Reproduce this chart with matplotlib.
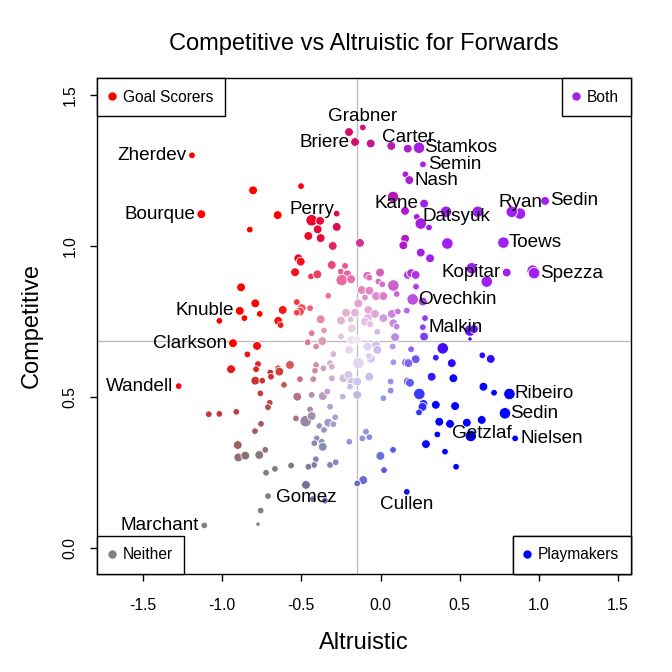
import numpy as np
import matplotlib.pyplot as plt

plt.rcParams['font.family'] = ['Liberation Sans', 'DejaVu Sans']

# altruistic (x), competitive (y), size class (1 tiny .. 4 large)
altruistic = [
    -1.191, -0.805, -1.132, -0.650, -0.826, -0.112, -0.199, -0.161, -0.062, 0.068,
    0.172, 0.243, 0.268, 0.157, 0.182, -0.502, -0.435, -0.382, -0.277, -0.277,
    -0.397, -0.456, -0.378, -0.302, -0.130, 0.079, 0.155, 0.275, 0.414, 0.229,
    0.254, 0.306, 0.155, 0.144, 0.422, 0.614, 0.881, 0.829, 1.039, 0.776,
    0.576, 0.671, 0.797, 0.961, 0.970, 0.565, 0.590, 0.565, 0.643, 0.696,
    0.450, 0.460, 0.650, 0.717, 0.814, 0.471, 0.786, 0.639, 0.545, 0.439,
    0.570, 0.850, 0.477, 0.271, 0.265, 0.349, 0.243, 0.371, 0.359, 0.287,
    0.407, 0.079, -0.001, 0.022, -0.109, -0.147, 0.166, -0.092, -0.115, -0.071,
    -0.197, -0.471, -0.428, -0.351, -0.319, -0.445, -0.534, -0.473, -0.435, -0.287,
    -0.330, -0.298, -0.387, -0.357, -0.403, -0.418, -0.372, -0.365, -0.409, -0.420,
    -0.456, -0.319, -0.283, -0.565, -0.667, -1.085, -1.018, -0.911, -0.700, -0.711,
    -0.755, -0.793, -0.902, -0.898, -0.854, -0.766, -0.728, -0.723, -0.711, -0.757,
    -0.774, -1.113, -0.881, -0.791, -0.763, -0.889, -0.860, -1.018, -0.932, -0.780,
    -0.841, -0.774, -0.786, -0.944, -0.696, -0.791, -0.747, -0.692, -0.759, -1.275,
    0.254, 0.313, -0.519, -0.504, -0.540, -0.439, -0.399, -0.308, -0.224, -0.251,
    -0.210, -0.245, -0.186, -0.083, -0.071, -0.003, -0.014, 0.011, 0.081, 0.172,
    0.193, 0.222, 0.224, 0.102, -0.119, -0.071, -0.098, -0.028, 0.018, -0.330,
    0.203, 0.267, -0.140, -0.529, -0.618, -0.498, -0.509, -0.445, -0.529, -0.646,
    -0.631, -0.378, -0.218, -0.161, -0.188, -0.250, -0.077, -0.035, -0.081, -0.098,
    -0.066, 0.018, 0.071, 0.109, 0.166, 0.081, 0.102, 0.281, 0.267, 0.275,
    -0.020, -0.182, -0.357, -0.435, -0.250, -0.460, -0.368, -0.182, -0.147, -0.407,
    -0.199, -0.083, -0.028, -0.020, 0.077, 0.092, 0.193, 0.393, -0.298, -0.060,
    -0.073, 0.222, 0.349, -0.572, -0.407, -0.319, -0.308, -0.140, 0.081, 0.161,
    0.176, -0.646, -0.639, -0.414, -0.361, -0.509, -0.425, -0.308, -0.235, -0.203,
    -0.182, -0.147, -0.193, -0.071, 0.064, 0.172, 0.186, 0.323, -0.610, -0.526,
    -0.435, -0.365, -0.336, -0.239, -0.147, 0.018, 0.064, 0.245,
]
competitive = [
    1.300, 1.184, 1.105, 1.102, 1.054, 1.392, 1.377, 1.344, 1.339, 1.331,
    1.322, 1.325, 1.270, 1.237, 1.218, 1.198, 1.085, 1.083, 1.107, 1.063,
    1.055, 1.033, 1.026, 1.000, 1.010, 1.162, 1.116, 1.140, 1.113, 1.096,
    1.074, 1.061, 1.024, 1.002, 1.008, 1.113, 1.107, 1.113, 1.149, 1.011,
    0.926, 0.882, 0.912, 0.918, 0.910, 0.720, 0.725, 0.692, 0.638, 0.626,
    0.612, 0.562, 0.534, 0.514, 0.510, 0.470, 0.446, 0.424, 0.415, 0.411,
    0.371, 0.363, 0.269, 0.477, 0.467, 0.474, 0.449, 0.418, 0.376, 0.344,
    0.319, 0.325, 0.305, 0.258, 0.225, 0.214, 0.186, 0.385, 0.363, 0.367,
    0.352, 0.209, 0.162, 0.157, 0.468, 0.459, 0.429, 0.420, 0.437, 0.433,
    0.415, 0.410, 0.404, 0.391, 0.363, 0.347, 0.352, 0.335, 0.294, 0.275,
    0.269, 0.275, 0.284, 0.273, 0.262, 0.443, 0.444, 0.451, 0.481, 0.466,
    0.411, 0.387, 0.341, 0.300, 0.306, 0.308, 0.325, 0.249, 0.172, 0.124,
    0.079, 0.075, 0.863, 0.810, 0.775, 0.785, 0.761, 0.752, 0.678, 0.669,
    0.641, 0.609, 0.592, 0.592, 0.581, 0.554, 0.554, 0.567, 0.512, 0.536,
    0.978, 0.959, 0.959, 0.948, 0.913, 0.899, 0.906, 0.937, 0.934, 0.915,
    0.906, 0.887, 0.890, 0.901, 0.895, 0.912, 0.882, 0.873, 0.869, 0.904,
    0.910, 0.904, 0.865, 0.841, 0.854, 0.852, 0.829, 0.834, 0.834, 0.835,
    0.823, 0.816, 0.810, 0.814, 0.788, 0.794, 0.783, 0.794, 0.779, 0.752,
    0.738, 0.757, 0.779, 0.779, 0.757, 0.753, 0.788, 0.775, 0.761, 0.749,
    0.741, 0.761, 0.775, 0.783, 0.786, 0.744, 0.733, 0.761, 0.731, 0.700,
    0.716, 0.727, 0.720, 0.711, 0.700, 0.681, 0.685, 0.689, 0.689, 0.667,
    0.656, 0.667, 0.672, 0.656, 0.667, 0.698, 0.658, 0.661, 0.642, 0.626,
    0.636, 0.625, 0.630, 0.606, 0.606, 0.612, 0.600, 0.612, 0.615, 0.614,
    0.612, 0.595, 0.584, 0.587, 0.595, 0.559, 0.559, 0.562, 0.562, 0.573,
    0.551, 0.551, 0.534, 0.567, 0.551, 0.551, 0.547, 0.567, 0.540, 0.501,
    0.507, 0.503, 0.518, 0.501, 0.507, 0.496, 0.521, 0.510,
]
size_class = [
    2, 3, 3, 3, 2, 2, 3, 3, 3, 3,
    3, 4, 2, 2, 3, 2, 4, 3, 2, 3,
    3, 3, 3, 3, 3, 4, 3, 3, 4, 2,
    4, 2, 3, 3, 4, 4, 4, 4, 3, 4,
    4, 4, 3, 4, 4, 4, 3, 1, 2, 3,
    3, 3, 3, 2, 4, 3, 4, 3, 3, 3,
    4, 2, 2, 3, 3, 3, 2, 3, 2, 3,
    2, 2, 3, 2, 3, 2, 2, 2, 2, 2,
    2, 3, 2, 2, 2, 2, 2, 4, 3, 2,
    3, 2, 2, 2, 2, 2, 2, 3, 2, 2,
    2, 2, 2, 2, 2, 2, 2, 2, 2, 2,
    2, 2, 3, 3, 3, 3, 2, 2, 2, 2,
    1, 2, 3, 3, 2, 3, 2, 2, 3, 3,
    2, 2, 2, 3, 2, 3, 2, 2, 2, 2,
    3, 3, 3, 3, 3, 2, 3, 3, 2, 2,
    3, 4, 3, 3, 2, 3, 2, 2, 4, 3,
    3, 3, 2, 2, 3, 3, 2, 3, 3, 2,
    4, 3, 3, 2, 3, 3, 3, 2, 2, 3,
    2, 3, 3, 3, 2, 3, 3, 3, 3, 3,
    2, 3, 3, 2, 2, 3, 2, 2, 2, 3,
    2, 3, 2, 2, 2, 2, 3, 3, 3, 2,
    3, 3, 3, 3, 2, 3, 2, 4, 2, 3,
    2, 3, 2, 3, 2, 2, 2, 4, 2, 3,
    3, 2, 3, 2, 2, 2, 2, 2, 3, 3,
    3, 3, 2, 3, 2, 3, 3, 3, 2, 3,
    2, 3, 2, 2, 3, 2, 2, 4,
]

# labelled players: name, x, y, side of the point where the name sits
label_names = ['Zherdev', 'Bourque', 'Grabner', 'Briere', 'Carter', 'Stamkos', 'Semin',
               'Nash', 'Perry', 'Kane', 'Datsyuk', 'Ryan', 'Sedin', 'Toews', 'Kopitar',
               'Spezza', 'Ovechkin', 'Malkin', 'Knuble', 'Clarkson', 'Wandell',
               'Ribeiro', 'Sedin', 'Getzlaf', 'Nielsen', 'Gomez', 'Cullen', 'Marchant']
label_x = [-1.191, -1.132, -0.112, -0.161, 0.172, 0.243, 0.268, 0.182, -0.435, 0.275,
           0.229, 0.881, 1.039, 0.776, 0.797, 0.970, 0.203, 0.267, -0.889, -0.932,
           -1.275, 0.814, 0.786, 0.639, 0.850, -0.471, 0.166, -1.113]
label_y = [1.300, 1.105, 1.392, 1.344, 1.322, 1.325, 1.270, 1.218, 1.085, 1.140,
           1.096, 1.107, 1.149, 1.011, 0.912, 0.910, 0.823, 0.731, 0.785, 0.678,
           0.536, 0.510, 0.446, 0.424, 0.363, 0.209, 0.186, 0.075]
label_pos = ['left', 'left', 'above', 'left', 'above', 'right', 'right', 'right', 'above',
             'left', 'right', 'above', 'right', 'right', 'left', 'right', 'right', 'right',
             'left', 'left', 'left', 'right', 'right', 'below', 'right', 'below', 'below',
             'left']

mean_alt = -0.147
mean_comp = 0.685

groups = ['Goal Scorers', 'Both', 'Neither', 'Playmakers']

RED = np.array([1.0, 0.0, 0.0])
PURPLE = np.array([0.627, 0.125, 0.941])
BLUE = np.array([0.0, 0.0, 1.0])
GREY = np.array([0.5, 0.5, 0.5])
WHITE = np.array([1.0, 1.0, 1.0])


def point_colour(x, y):
    dx = x - mean_alt
    dy = y - mean_comp
    a = np.clip(0.5 + dx / 0.9, 0, 1)   # weight to the right side
    if dx < 0:
        b = np.clip(0.5 + (dy - 0.3 * dx) / 0.45, 0, 1)
    else:
        b = np.clip(0.5 + dy / 0.3, 0, 1)
    col = (1 - a) * (1 - b) * GREY + a * (1 - b) * BLUE + (1 - a) * b * RED + a * b * PURPLE
    sy = 0.42 if dy > 0 else 0.7
    t = np.clip(0.1 + np.hypot(dx / 0.6, dy / sy), 0, 1)
    return WHITE * (1 - t) + col * t


x = np.array(altruistic)
y = np.array(competitive)
colours = [point_colour(a, b) for a, b in zip(x, y)]
sizes = np.array([10, 23, 40, 68])[np.array(size_class) - 1]

fig = plt.figure(figsize=(6.72, 6.72), dpi=100)
ax = fig.add_axes([0.1443, 0.1458, 0.7947, 0.7382])

ax.axvline(mean_alt, color='#bebebe', lw=1, zorder=0)
ax.axhline(mean_comp, color='#bebebe', lw=1, zorder=0)
ax.scatter(x, y, s=sizes, c=colours, edgecolors='white', linewidths=0.6, zorder=2)

offsets = {'left': ((-4, 0), 'right', 'center'),
           'right': ((4, 0), 'left', 'center'),
           'above': ((0, 7.7), 'center', 'center'),
           'below': ((0, -9.4), 'center', 'center')}
for name, lx, ly, pos in zip(label_names, label_x, label_y, label_pos):
    off, ha, va = offsets[pos]
    ax.annotate(name, (lx, ly), xytext=off, textcoords='offset points',
                ha=ha, va=va, fontsize=13.6, zorder=3)

ax.set_xlim(-1.791, 1.582)
ax.set_ylim(-0.086, 1.556)
ax.set_xticks([-1.5, -1.0, -0.5, 0.0, 0.5, 1.0, 1.5])
ax.set_yticks([0.0, 0.5, 1.0, 1.5])
ax.set_xticklabels(['-1.5', '-1.0', '-0.5', '0.0', '0.5', '1.0', '1.5'])
ax.set_yticklabels(['0.0', '0.5', '1.0', '1.5'], rotation=90, va='center')
ax.tick_params(axis='both', length=5, width=1, labelsize=11.3)
ax.tick_params(axis='x', pad=12)
ax.tick_params(axis='y', pad=9)
for sp in ax.spines.values():
    sp.set_linewidth(1)

ax.set_xlabel('Altruistic', fontsize=17, labelpad=14)
ax.set_ylabel('Competitive', fontsize=17, labelpad=14)
ax.set_title('Competitive vs Altruistic for Forwards', fontsize=17, pad=20)

# corner legends
legend_cols = [RED, PURPLE, GREY, BLUE]
legend_locs = ['upper left', 'upper right', 'lower left', 'lower right']
for g, col, loc in zip(groups, legend_cols, legend_locs):
    h, = ax.plot([], [], 'o', color=col, markersize=5)
    leg = ax.legend([h], [g], loc=loc, borderaxespad=0, fancybox=False,
                    edgecolor='black', framealpha=1, fontsize=11.2,
                    handlelength=0.4, handletextpad=0.5, borderpad=0.75)
    leg.get_frame().set_linewidth(1)
    ax.add_artist(leg)

fig.savefig('out.png', dpi=100)
